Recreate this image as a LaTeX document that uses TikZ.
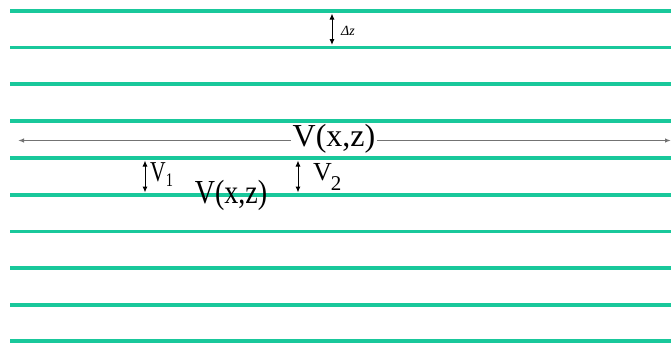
\documentclass[tikz,border=0pt]{standalone}
\usepackage{fontspec}
\setmainfont{Liberation Serif}
\usetikzlibrary{arrows.meta}
\definecolor{layer}{RGB}{25,200,155}
\definecolor{axis}{RGB}{115,115,115}
\begin{document}
\begin{tikzpicture}[x=1pt,y=-1pt,
  layerline/.style={draw=layer,line width=3.6pt},
  gap/.style={{Latex[length=6pt,width=5pt]}-{Latex[length=6pt,width=5pt]},line width=1pt,black},
  lbl/.style={inner sep=0pt,anchor=base west}]
\useasboundingbox (0,0) rectangle (671,343);
\foreach \i/\y in {1/11,2/47.5,3/84,4/121,5/158,6/195,7/231.5,8/268,9/305,10/341}{
  \coordinate (l\i a) at (10,\y);
  \coordinate (l\i b) at (671,\y);
  \draw[layerline] (l\i a) -- (l\i b);
}
% main axis
\node[inner sep=1.5pt,anchor=base,font=\fontsize{32}{32}\selectfont] (vxz) at (334,146) {V(x,z)};
\coordinate (axl) at (18,140.5);
\coordinate (axr) at (671,140.5);
\draw[axis,line width=1.6pt,-{Latex[length=6pt,width=4.5pt]}] (vxz.west|-axl) -- (axl);
\draw[axis,line width=1.6pt,-{Latex[length=6pt,width=4.5pt]}] (vxz.east|-axr) -- (axr);
% delta z
\coordinate (dzt) at (332,13.5);
\coordinate (dzb) at (332,45);
\draw[gap] (dzt) -- (dzb);
\node[lbl,font=\fontsize{14}{14}\selectfont] (dz) at (341,35.5) {\textit{Δz}};
% V1
\coordinate (v1t) at (145,160.5);
\coordinate (v1b) at (145,192.5);
\draw[gap] (v1t) -- (v1b);
\node[lbl,xscale=0.9,yscale=1.2,font=\fontsize{24}{24}\selectfont] (v1) at (150,181.5) {V\raisebox{-4.5pt}{\fontsize{16}{16}\selectfont 1}};
% V2
\coordinate (v2t) at (298,160.5);
\coordinate (v2b) at (298,192.5);
\draw[gap] (v2t) -- (v2b);
\node[lbl,font=\fontsize{26}{26}\selectfont] (v2) at (313,180) {V\kern-1pt\raisebox{-10pt}{\fontsize{21}{21}\selectfont 2}};
% second V(x,z)
\node[inner sep=0pt,anchor=base,yscale=1.2,font=\fontsize{28}{28}\selectfont] (vxz2) at (231,203) {V(x,z)};
\end{tikzpicture}
\end{document}
